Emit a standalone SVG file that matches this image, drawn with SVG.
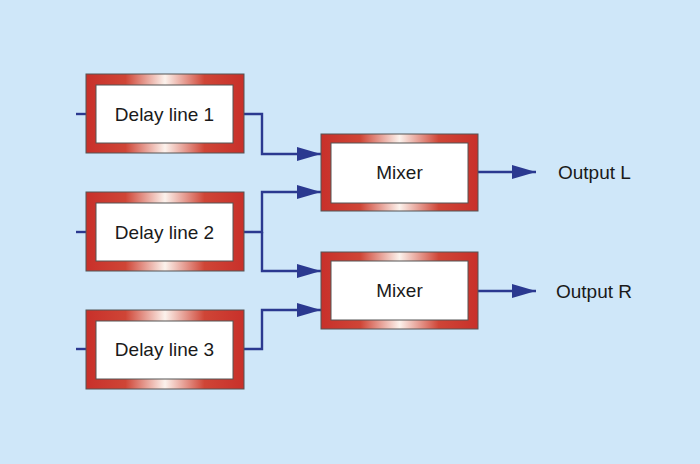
<svg xmlns="http://www.w3.org/2000/svg" width="700" height="464" viewBox="0 0 700 464">
<defs>
<linearGradient id="frame" x1="0" y1="0" x2="1" y2="0">
<stop offset="0" stop-color="#c8302a"/>
<stop offset="0.25" stop-color="#cf4536"/>
<stop offset="0.5" stop-color="#fcf2ec"/>
<stop offset="0.75" stop-color="#cf4536"/>
<stop offset="1" stop-color="#c8302a"/>
</linearGradient>
<marker id="arr" markerUnits="userSpaceOnUse" markerWidth="26" markerHeight="16" refX="24" refY="7" orient="auto">
<path d="M0,0 L24,7 L0,14 Z" fill="#2b3990"/>
</marker>
<style>
.outer{fill:url(#frame);stroke:#555;stroke-width:1}
.inner{fill:#fff;stroke:#555;stroke-width:1}
.lbl{font-family:"Liberation Sans",Arial,sans-serif;font-size:19px;fill:#1a1a1a;text-anchor:middle}
.out{font-family:"Liberation Sans",Arial,sans-serif;font-size:19px;fill:#1a1a1a}
.wire{fill:none;stroke:#2b3990;stroke-width:2.4}
</style>
</defs>
<rect width="700" height="464" fill="#cfe7f9"/>
<g id="connectors">
<path class="wire" d="M76,114 H86"/>
<path class="wire" d="M76,232 H86"/>
<path class="wire" d="M76,349 H86"/>
<path class="wire" d="M244,114 H262 V154 H321" marker-end="url(#arr)"/>
<path class="wire" d="M244,232 H262 V192 H321" marker-end="url(#arr)"/>
<path class="wire" d="M262,232 V271 H321" marker-end="url(#arr)"/>
<path class="wire" d="M244,349 H262 V310 H321" marker-end="url(#arr)"/>
<path class="wire" d="M478,172 H536" marker-end="url(#arr)"/>
<path class="wire" d="M478,291 H536" marker-end="url(#arr)"/>
</g>
<g id="delay1">
<rect class="outer" x="86" y="74" width="158" height="79"/>
<rect class="inner" x="96" y="85" width="137" height="58"/>
<text class="lbl" x="164.5" y="121">Delay line 1</text>
</g>
<g id="delay2">
<rect class="outer" x="86" y="192" width="158" height="79"/>
<rect class="inner" x="96" y="203" width="137" height="58"/>
<text class="lbl" x="164.5" y="239">Delay line 2</text>
</g>
<g id="delay3">
<rect class="outer" x="86" y="310" width="158" height="79"/>
<rect class="inner" x="96" y="321" width="137" height="58"/>
<text class="lbl" x="164.5" y="356">Delay line 3</text>
</g>
<g id="mixer1">
<rect class="outer" x="321" y="134" width="157" height="77"/>
<rect class="inner" x="331" y="143" width="137" height="60"/>
<text class="lbl" x="399.5" y="179">Mixer</text>
</g>
<g id="mixer2">
<rect class="outer" x="321" y="252" width="157" height="77"/>
<rect class="inner" x="331" y="261" width="137" height="59"/>
<text class="lbl" x="399.5" y="297">Mixer</text>
</g>
<g id="outL"><text class="out" x="558" y="179">Output L</text></g>
<g id="outR"><text class="out" x="556" y="298">Output R</text></g>
</svg>
